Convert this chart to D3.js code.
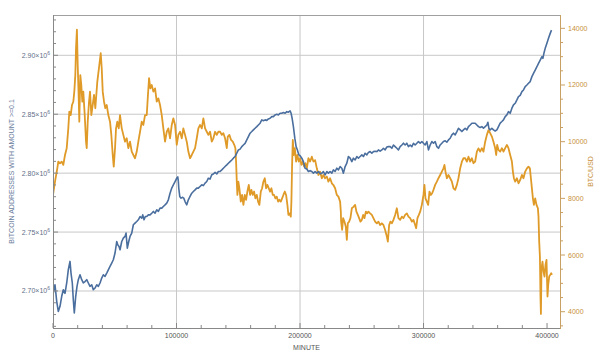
<!DOCTYPE html>
<html>
<head>
<meta charset="utf-8">
<script src="https://cdn.jsdelivr.net/npm/d3@7"></script>
<style>
  body { margin: 0; background: #fff; }
  svg { display: block; font-family: "Liberation Sans", Arial, sans-serif; }
</style>
</head>
<body>
<div id="chart"></div>
<script>
// [minute, addresses with amount >= 0.1]
const addressSeries = [
  [0,2696900],[1620,2705300],[3000,2691200],[4290,2682700],[5670,2687000],[7050,2695500],[8340,2701100],[9720,2698000],
  [11100,2706800],[12390,2718000],[13770,2725100],[14580,2715200],[15630,2706800],[16440,2692600],[17250,2681300],[18390,2695500],
  [19440,2703900],[20490,2709600],[21870,2713800],[23250,2709600],[24540,2706800],[25920,2708000],[27300,2709600],[28590,2706800],
  [29970,2703900],[31350,2705300],[32640,2701100],[34020,2702500],[35400,2705300],[36690,2703900],[38070,2706800],[39450,2711000],
  [40740,2713800],[42120,2712400],[43500,2715200],[44790,2718000],[46170,2720800],[47550,2723700],[48840,2726500],[50220,2732200],
  [51600,2742000],[52410,2739200],[53460,2737800],[54270,2735000],[55650,2742000],[56940,2744900],[58320,2746300],[59130,2749100],
  [60180,2736400],[61320,2742000],[62370,2746300],[63750,2749100],[65040,2756200],[66420,2757600],[67800,2759000],[69090,2760400],
  [70470,2763200],[71850,2761800],[72660,2764600],[73710,2760400],[74760,2763200],[75900,2763200],[77190,2764600],[78570,2764600],
  [79950,2766000],[81240,2767500],[82620,2766000],[84000,2768900],[85290,2767500],[86670,2770300],[88050,2770300],[89340,2771700],
  [90720,2773100],[92100,2774600],[93390,2777400],[94770,2783000],[96150,2787300],[97440,2790100],[98820,2792900],[100200,2795800],
  [101010,2796800],[101490,2793000],[101820,2787300],[102630,2780200],[103680,2778800],[104730,2779500],[105870,2778800],[106920,2775900],
  [108300,2773100],[109590,2777400],[110970,2780200],[112350,2783000],[113640,2784400],[115020,2785800],[116400,2787300],[117690,2787300],
  [119070,2788700],[120450,2790100],[121740,2789400],[123120,2791500],[124500,2792900],[125790,2795700],[127170,2795000],[128550,2798600],
  [129840,2799300],[131220,2800700],[132600,2799300],[133890,2801400],[135270,2801400],[136650,2802800],[137940,2804200],[139320,2805600],
  [140700,2807000],[141990,2808400],[143370,2809800],[144750,2811200],[146040,2812700],[147420,2814100],[148800,2816900],[150090,2819700],
  [151470,2820400],[152850,2822500],[154140,2823900],[155520,2825300],[156900,2828200],[158190,2831000],[159570,2833900],[160950,2835300],
  [162240,2836700],[163620,2838100],[165000,2839500],[166290,2840900],[167670,2842400],[169050,2845200],[170340,2844500],[171720,2845200],
  [173100,2844800],[174390,2846000],[175770,2846600],[177150,2848000],[178440,2848000],[179820,2849400],[181200,2849900],[182490,2849400],
  [183870,2850800],[185250,2850800],[186540,2851400],[187920,2850800],[189300,2852200],[190590,2851700],[191970,2852800],[192780,2850800],
  [193590,2846600],[194640,2839500],[195780,2829700],[196830,2822500],[197880,2819700],[199020,2815500],[200070,2814800],[201450,2812700],
  [202740,2809800],[204120,2804200],[205500,2803500],[206790,2801400],[208170,2802100],[209550,2801400],[210840,2800000],[212220,2801400],
  [213600,2800000],[214890,2801400],[216270,2799600],[217650,2800000],[218940,2801400],[220320,2798600],[221700,2801400],[222990,2800000],
  [224370,2801400],[225750,2800000],[227040,2802800],[228420,2801400],[229800,2804200],[231090,2802800],[232470,2805600],[233850,2804200],
  [235140,2800000],[236520,2805600],[237900,2808500],[239190,2814100],[240570,2812700],[241950,2809800],[243240,2812700],[244620,2811200],
  [246000,2814100],[247290,2812700],[248670,2814100],[250050,2815500],[251340,2814100],[252720,2816900],[254100,2815500],[255390,2817600],
  [256770,2818300],[258150,2816900],[259440,2818300],[260820,2818600],[262200,2818300],[263490,2819700],[264870,2818600],[266250,2819700],
  [267540,2821100],[268920,2819700],[270300,2822200],[271590,2822500],[272970,2822500],[274350,2821100],[275640,2823900],[277020,2822500],
  [278400,2821100],[279690,2819700],[281070,2822500],[282450,2823900],[283740,2825400],[285120,2823900],[286500,2825400],[287790,2822500],
  [289170,2823900],[290550,2822500],[291840,2825400],[293220,2823900],[294600,2825400],[295890,2826800],[297270,2825400],[298650,2826800],
  [299940,2825400],[301320,2823900],[302700,2826800],[303990,2819700],[305370,2823900],[306750,2826800],[308040,2825400],[309420,2826800],
  [310800,2822500],[312090,2821100],[313470,2823900],[314850,2825400],[316140,2826800],[317520,2827400],[318900,2826300],[320190,2828200],
  [321570,2829600],[322950,2832500],[324240,2833900],[325620,2832500],[327000,2835300],[328290,2838100],[329670,2836700],[331050,2835300],
  [332340,2836700],[333720,2838100],[335100,2836700],[336390,2839500],[337770,2840900],[339150,2842400],[340440,2842400],[341820,2842400],
  [343200,2840900],[344490,2839500],[345870,2838700],[347250,2839500],[348540,2838100],[349920,2839500],[351300,2840900],[352110,2843200],
  [352920,2838000],[353970,2836700],[355350,2838100],[356640,2836700],[358020,2835800],[359400,2836700],[360690,2839500],[362070,2842400],
  [363450,2843800],[364740,2845200],[366120,2848000],[367500,2849400],[368790,2852200],[370170,2850800],[371550,2855100],[372840,2857900],
  [374220,2859300],[375600,2862100],[376890,2864900],[378270,2866000],[379650,2869200],[380940,2870600],[382320,2873400],[383700,2874800],
  [384990,2876300],[386370,2877700],[387750,2881900],[389040,2884700],[390420,2887500],[391800,2890300],[393090,2893200],[394470,2896000],
  [395850,2898800],[396660,2897400],[397470,2901700],[398520,2905900],[399900,2910200],[401190,2914400],[402570,2918600],[403620,2921400]
];

// [minute, BTC/USD]
const priceSeries = [
  [0,8120],[1620,8590],[3480,9060],[4290,9295],[5670,9240],[7050,9295],[8340,9180],[9720,9530],[11100,9770],[12390,10470],
  [13200,11060],[14340,10940],[15390,11295],[16440,11410],[17250,11765],[18060,12350],[18630,13295],[19360,13950],[20010,12705],[20820,11530],
  [21300,10705],[22110,12350],[22920,12000],[23730,11410],[24540,11765],[25680,10940],[26730,10000],[27300,9770],[28110,10705],[29160,11410],
  [29970,11765],[31020,10940],[32160,11295],[33210,11650],[34260,11180],[35880,12120],[37500,12705],[38640,13120],[39450,12590],[40260,11765],
  [41310,11410],[42360,11180],[43500,11295],[44790,10940],[46170,10705],[47220,10240],[48360,9530],[49170,9120],[50220,9770],[51030,10470],
  [52080,10705],[53220,10470],[54270,10940],[55650,10470],[56940,10240],[58320,10000],[59700,10120],[60990,9770],[62370,10000],[63750,9650],
  [65040,9530],[66420,9415],[67800,9650],[69090,10000],[70470,10350],[71850,10705],[73140,10590],[74520,10940],[75900,10940],[76710,11530],
  [77760,12240],[78810,11880],[79950,12000],[81240,11765],[82620,11880],[84000,11410],[85290,11530],[86670,11295],[88050,10940],[89340,10470],
  [90720,10000],[92100,10350],[93390,10470],[94770,10120],[96150,10590],[97440,10825],[98820,10590],[100200,9885],[101490,10240],[102870,10350],
  [104250,10120],[105540,10470],[106920,10240],[108300,10000],[109590,9650],[110970,9415],[112350,9530],[113640,9650],[115020,9770],[116400,10120],
  [117690,10470],[119070,10590],[120450,10470],[121740,10825],[123120,10470],[124500,10350],[125790,10240],[127170,10350],[128550,10000],[129840,10120],
  [131220,10350],[132600,10240],[133890,10350],[135270,10350],[136650,10240],[137940,10300],[139320,10120],[140700,9770],[141510,10180],[142800,10240],
  [144180,10060],[145560,10000],[146850,9880],[147660,9770],[148230,9300],[148800,8590],[149280,8120],[150090,8590],[150900,8355],[152040,7885],
  [153090,8120],[154140,7770],[155280,8120],[156330,7950],[157380,8240],[158520,8475],[159570,8120],[160620,8300],[161760,8120],[162810,8240],
  [163860,8000],[165000,8120],[166050,7885],[167100,7770],[168240,8240],[169290,8355],[170340,8590],[171480,8710],[172530,8355],[173580,8475],
  [174720,8355],[175770,8240],[176820,8355],[177960,8120],[179010,8120],[180060,8000],[181200,8060],[182250,7885],[183300,7950],[184440,7885],
  [185490,8000],[186540,8120],[187680,8240],[188730,8120],[189780,7770],[190590,7415],[191400,7470],[192540,7355],[193020,7885],[193590,9180],
  [194160,10060],[194970,9530],[195780,9770],[196830,9295],[197880,9530],[199020,9295],[200070,9415],[201120,9180],[202260,9300],[203310,9120],
  [204360,9240],[205500,9060],[206790,9415],[208170,9300],[209550,9470],[210840,9300],[212220,9350],[213600,9060],[214890,8825],[216270,8940],
  [217650,8710],[218940,8825],[220320,8710],[221700,8770],[222990,8590],[224370,8710],[225750,8530],[227040,8470],[228420,8355],[229800,8120],
  [231090,8060],[232470,7885],[233040,7530],[233280,7180],[234090,6885],[234900,7300],[235950,7180],[237090,7000],[237900,6535],[238710,7120],
  [239760,7180],[240810,7300],[241950,7650],[243240,7700],[244620,7770],[245670,7530],[246810,7415],[247860,7300],[248910,7180],[250050,7240],
  [251100,7415],[252150,7300],[253290,7530],[254340,7470],[255390,7530],[256770,7470],[258150,7415],[259440,7300],[260820,7180],[262200,7120],
  [263490,7180],[264870,7060],[266250,7120],[267540,7060],[268920,6885],[270300,6650],[271110,6475],[272160,7060],[273210,7180],[274350,7120],
  [275640,7240],[277020,7415],[278400,7650],[279690,7300],[281070,7240],[282450,7355],[283740,7300],[285120,7415],[286500,7470],[287790,7355],
  [289170,7300],[290550,7180],[291840,7240],[293220,7060],[294030,6945],[295080,7300],[296220,7415],[297270,7530],[298650,7770],[299940,8120],
  [300750,8475],[301560,8000],[302700,7885],[303750,7770],[304800,8240],[305940,8120],[306990,8180],[308040,8300],[309420,8475],[310800,8590],
  [312090,8710],[313470,8825],[314850,8945],[316140,9060],[316950,9180],[317760,8945],[318900,8710],[320190,8825],[321570,8710],[322950,8590],
  [324240,8355],[325620,8300],[327000,8475],[328290,8710],[329670,9060],[331050,9295],[332340,9415],[333720,9415],[335100,9295],[336390,9470],
  [337770,9295],[339150,9415],[340440,9240],[341820,9300],[343200,9650],[344490,9765],[345870,9650],[347250,9770],[348540,9650],[349920,10000],
  [351300,10240],[352590,10410],[353970,10300],[355350,10180],[356640,10000],[358020,9770],[358830,9530],[359640,9885],[360690,9710],[362070,9650],
  [363450,9770],[364740,9650],[366120,9770],[367500,9885],[368790,9770],[370170,9530],[371550,9300],[372360,8945],[373170,8710],[374220,8590],
  [375600,8710],[376890,8530],[378270,8650],[379650,8825],[380940,8710],[382320,8945],[383700,9060],[384990,9120],[386130,9060],[386940,8710],
  [387750,8355],[388560,8000],[389370,7770],[390420,8000],[391470,7770],[392610,7650],[393090,7355],[393660,6475],[394230,5945],[394710,4500],
  [395040,3920],[395520,5535],[396330,5770],[397140,5415],[397950,5240],[398760,5650],[399570,5830],[400380,4535],[400950,4945],[401760,5240],
  [402570,5300],[403380,5360],[403950,5300]
];

const xTicks = [0, 100000, 200000, 300000, 400000];
const xGrid = [100000, 200000, 300000];
const leftTicks = [2.70e6, 2.75e6, 2.80e6, 2.85e6, 2.90e6];
const rightTicks = [4000, 6000, 8000, 10000, 12000, 14000];

const width = 600, height = 358;
const margin = {top: 15, right: 40, bottom: 30, left: 53};
const blue = '#4a6e9e', orange = '#df9a28';
const axisOrange = '#c9a063';

const svg = d3.select('#chart').append('svg')
    .attr('width', width)
    .attr('height', height);

const x = d3.scaleLinear().domain([0, 410500]).range([margin.left, width - margin.right]);
const yL = d3.scaleLinear().domain([2668600, 2934200]).range([height - margin.bottom, margin.top]);
const yR = d3.scaleLinear().domain([3425, 14470]).range([height - margin.bottom, margin.top]);

const x0 = margin.left, x1 = width - margin.right;
const y0 = height - margin.bottom, y1 = margin.top;

// grid lines
svg.append('g').selectAll('line.v')
    .data(xGrid).enter().append('line')
    .attr('x1', d => x(d)).attr('x2', d => x(d))
    .attr('y1', y1).attr('y2', y0)
    .attr('stroke', '#c8c8c8').attr('stroke-width', 1);
svg.append('g').selectAll('line.h')
    .data(leftTicks).enter().append('line')
    .attr('x1', x0).attr('x2', x1)
    .attr('y1', d => yL(d)).attr('y2', d => yL(d))
    .attr('stroke', '#c8c8c8').attr('stroke-width', 1);

// clip for the series
svg.append('clipPath').attr('id', 'plot-clip')
    .append('rect').attr('x', x0).attr('y', y1).attr('width', x1 - x0).attr('height', y0 - y1);

const addrLine = d3.line().x(d => x(d[0])).y(d => yL(d[1]));
const priceLine = d3.line().x(d => x(d[0])).y(d => yR(d[1]));

svg.append('path')
    .datum(priceSeries)
    .attr('clip-path', 'url(#plot-clip)')
    .attr('fill', 'none')
    .attr('stroke', orange)
    .attr('stroke-width', 1.8)
    .attr('stroke-linejoin', 'round')
    .attr('d', priceLine);

svg.append('path')
    .datum(addressSeries)
    .attr('clip-path', 'url(#plot-clip)')
    .attr('fill', 'none')
    .attr('stroke', blue)
    .attr('stroke-width', 1.6)
    .attr('stroke-linejoin', 'round')
    .attr('d', addrLine);

// frame
const frame = svg.append('g').attr('stroke-width', 1).attr('shape-rendering', 'crispEdges');
frame.append('line').attr('x1', x0).attr('x2', x1).attr('y1', y1 + 0.5).attr('y2', y1 + 0.5).attr('stroke', '#a0a0a0');
frame.append('line').attr('x1', x0).attr('x2', x1).attr('y1', y0 + 0.5).attr('y2', y0 + 0.5).attr('stroke', '#888');
frame.append('line').attr('x1', x0 + 0.5).attr('x2', x0 + 0.5).attr('y1', y1).attr('y2', y0).attr('stroke', '#888');
frame.append('line').attr('x1', x1 + 0.5).attr('x2', x1 + 0.5).attr('y1', y1).attr('y2', y0 + 1).attr('stroke', axisOrange);

// x ticks (inside), minor every 20000
const xMinor = d3.range(0, 410001, 20000);
svg.append('g').selectAll('line')
    .data(xMinor).enter().append('line')
    .attr('x1', d => x(d)).attr('x2', d => x(d))
    .attr('y1', y0).attr('y2', d => y0 - (d % 100000 === 0 ? 5 : 3))
    .attr('stroke', '#888');
svg.append('g').selectAll('text')
    .data(xTicks).enter().append('text')
    .attr('x', d => x(d)).attr('y', y0 + 10)
    .attr('text-anchor', 'middle')
    .attr('font-size', 7).attr('fill', '#555')
    .text(d => d);

// left ticks, minor every 10000
const lMinor = d3.range(2.67e6, 2.931e6, 1e4);
svg.append('g').selectAll('line')
    .data(lMinor).enter().append('line')
    .attr('x1', x0).attr('x2', d => x0 + (Math.round(d / 1e4) % 5 === 0 ? 5 : 3))
    .attr('y1', d => yL(d)).attr('y2', d => yL(d))
    .attr('stroke', '#888');
const lLab = svg.append('g').selectAll('text')
    .data(leftTicks).enter().append('text')
    .attr('x', x0 - 3).attr('y', d => yL(d) + 2.5)
    .attr('text-anchor', 'end')
    .attr('font-size', 7).attr('fill', '#5f6f88');
lLab.append('tspan').text(d => (d / 1e6).toFixed(2) + '\u00d710');
lLab.append('tspan').attr('dy', -3).attr('font-size', 5).text('6');

// right ticks, minor every 500
const rMinor = d3.range(3500, 14470, 500);
svg.append('g').selectAll('line')
    .data(rMinor).enter().append('line')
    .attr('x1', x1).attr('x2', d => x1 + (d % 2000 === 0 ? 5 : 3))
    .attr('y1', d => yR(d)).attr('y2', d => yR(d))
    .attr('stroke', axisOrange);
svg.append('g').selectAll('text')
    .data(rightTicks).enter().append('text')
    .attr('x', x1 + 8).attr('y', d => yR(d) + 2.5)
    .attr('font-size', 7).attr('fill', '#c8903a')
    .text(d => d);

// axis labels
svg.append('text')
    .attr('x', (x0 + x1) / 2).attr('y', 350)
    .attr('text-anchor', 'middle')
    .attr('font-size', 7).attr('fill', '#555')
    .text('MINUTE');
svg.append('text')
    .attr('transform', `translate(14, ${(y0 + y1) / 2}) rotate(-90)`)
    .attr('text-anchor', 'middle')
    .attr('font-size', 7).attr('fill', '#6a7d9c')
    .text('BITCOIN ADDRESSES WITH AMOUNT >=0.1');
svg.append('text')
    .attr('transform', `translate(593, ${(y0 + y1) / 2}) rotate(-90)`)
    .attr('text-anchor', 'middle')
    .attr('font-size', 7).attr('fill', '#c8903a')
    .text('BTC/USD');
</script>
</body>
</html>
